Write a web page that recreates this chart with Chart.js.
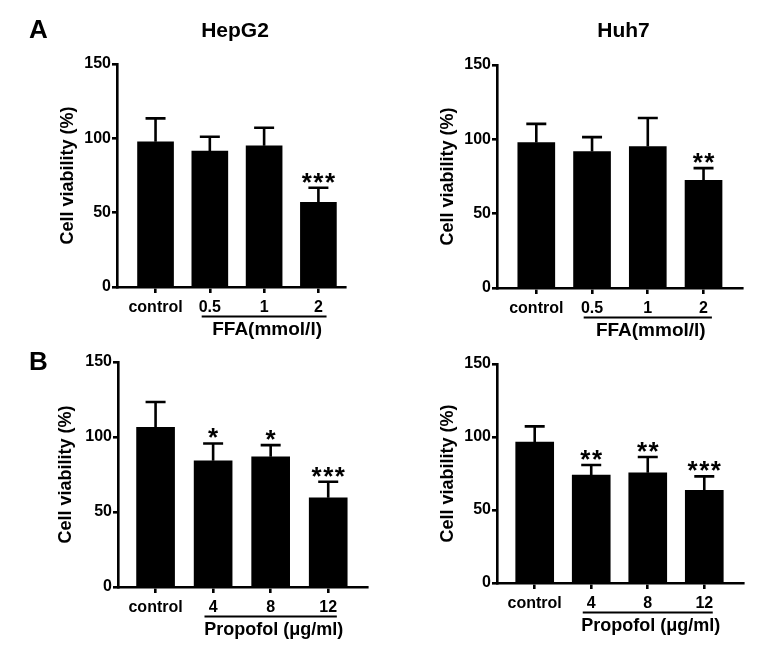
<!DOCTYPE html>
<html>
<head>
<meta charset="utf-8">
<script src="https://cdn.jsdelivr.net/npm/chart.js@4.4.1/dist/chart.umd.min.js"></script>
<style>
    body { margin: 0; background: #fff; }
    #wrap { position: relative; width: 780px; height: 649px; }
    #wrap canvas { position: absolute; left: 0; top: 0; }
</style>
</head>
<body>
<div id="wrap">
    <canvas id="hepg2Ffa" width="780" height="649"></canvas>
    <canvas id="huh7Ffa" width="780" height="649"></canvas>
    <canvas id="hepg2Propofol" width="780" height="649"></canvas>
    <canvas id="huh7Propofol" width="780" height="649"></canvas>
</div>
<script>
const ffaCategories = ['control', '0.5', '1', '2'];
const propofolCategories = ['control', '4', '8', '12'];
const yTickValues = [0, 50, 100, 150];

const hepg2FfaMeans = [97.7, 91.5, 95.0, 57.0];
const hepg2FfaSd = [15.7, 9.6, 12.1, 9.8];
const hepg2FfaStars = ['', '', '', '***'];

const huh7FfaMeans = [97.8, 91.8, 95.2, 72.5];
const huh7FfaSd = [12.6, 9.7, 19.1, 8.1];
const huh7FfaStars = ['', '', '', '**'];

const hepg2PropofolMeans = [106.5, 84.1, 86.8, 59.5];
const hepg2PropofolSd = [16.8, 11.6, 7.8, 10.7];
const hepg2PropofolStars = ['', '*', '*', '***'];

const huh7PropofolMeans = [96.6, 74.0, 75.5, 63.4];
const huh7PropofolSd = [10.7, 6.8, 10.8, 9.6];
const huh7PropofolStars = ['', '**', '**', '***'];

const FONT = '"Liberation Sans", Arial, Helvetica, sans-serif';
const Y_W = 64;
const X_H = 60;

// draws error bars, stars, the grouping line and panel titles
const makeAnnotator = (p) => ({
    id: 'annotate',
    afterDatasetsDraw(chart) {
        const { ctx, chartArea, scales: { x, y } } = chart;
        ctx.save();
        ctx.strokeStyle = '#000';
        ctx.fillStyle = '#000';
        ctx.lineWidth = 2.6;

        p.means.forEach((m, i) => {
            const cx = x.getPixelForValue(i);
            const yBar = y.getPixelForValue(m);
            const yTop = y.getPixelForValue(m + p.sd[i]);
            ctx.beginPath();
            ctx.moveTo(cx, yBar);
            ctx.lineTo(cx, yTop);
            ctx.moveTo(cx - 10, yTop);
            ctx.lineTo(cx + 10, yTop);
            ctx.stroke();
            if (p.stars[i]) {
                ctx.font = `bold 26px ${FONT}`;
                ctx.letterSpacing = '1.5px';
                ctx.textAlign = 'center';
                ctx.textBaseline = 'alphabetic';
                ctx.fillText(p.stars[i], cx + 0.75, yTop + 3);
                ctx.letterSpacing = '0px';
            }
        });

        // group underline + label
        const gx0 = x.getPixelForValue(0.85);
        const gx1 = x.getPixelForValue(3.15);
        const gy = chartArea.bottom + 29.5;
        ctx.lineWidth = 2.2;
        ctx.beginPath();
        ctx.moveTo(gx0, gy);
        ctx.lineTo(gx1, gy);
        ctx.stroke();
        ctx.font = `bold ${p.groupSize}px ${FONT}`;
        ctx.textAlign = 'center';
        ctx.textBaseline = 'middle';
        ctx.fillText(p.group, (gx0 + gx1) / 2 + 3, chartArea.bottom + 43);

        if (p.title) {
            ctx.font = `bold 21px ${FONT}`;
            ctx.fillText(p.title, (chartArea.left + chartArea.right) / 2 + 4, 31);
        }
        if (p.letter) {
            ctx.font = `bold 26px ${FONT}`;
            ctx.textAlign = 'left';
            ctx.fillText(p.letter, 29, p.letterY);
        }
        ctx.restore();
    }
});

const renderPanel = (id, p) => {
    const ctx = document.getElementById(id);
    if (!ctx) return;

    const axisFont = { family: FONT, size: 16, weight: 'bold' };

    new Chart(ctx, {
        type: 'bar',
        data: {
            datasets: [{
                data: p.means.map((v, i) => ({ x: i, y: v })),
                backgroundColor: '#000',
                borderWidth: 0,
                barThickness: p.barWidth
            }]
        },
        options: {
            responsive: false,
            animation: false,
            events: [],
            layout: {
                padding: {
                    left: p.area.left - Y_W,
                    right: 780 - p.area.right,
                    top: p.area.top,
                    bottom: 649 - p.area.bottom - X_H
                }
            },
            plugins: { legend: { display: false }, tooltip: { enabled: false } },
            scales: {
                x: {
                    type: 'linear',
                    offset: false,
                    min: p.xMin,
                    max: p.xMax,
                    afterBuildTicks: (s) => { s.ticks = p.categories.map((c, i) => ({ value: i })); },
                    afterFit: (s) => { s.height = X_H; },
                    ticks: {
                        callback: (v) => p.categories[v],
                        color: '#000',
                        font: axisFont,
                        padding: 5,
                        autoSkip: false,
                        maxRotation: 0
                    },
                    grid: { offset: false, drawOnChartArea: false, color: '#000', lineWidth: 2.6, tickLength: 6 },
                    border: { display: true, color: '#000', width: 2.6 }
                },
                y: {
                    min: 0,
                    max: 150,
                    afterBuildTicks: (s) => { s.ticks = yTickValues.map(v => ({ value: v })); },
                    afterFit: (s) => { s.width = Y_W; },
                    ticks: { color: '#000', font: axisFont, padding: 1 },
                    grid: { drawOnChartArea: false, color: '#000', lineWidth: 2.6, tickLength: 5 },
                    border: { display: true, color: '#000', width: 2.6 },
                    title: {
                        display: true,
                        text: 'Cell viability (%)',
                        color: '#000',
                        font: { family: FONT, size: 18, weight: 'bold' },
                        padding: { top: p.yTitlePad, bottom: 0 }
                    }
                }
            }
        },
        plugins: [makeAnnotator(p)]
    });
};

renderPanel('hepg2Ffa', {
    area: { left: 117, right: 345, top: 64, bottom: 287 },
    xMin: -0.71, xMax: 3.49, barWidth: 36, yTitlePad: 4.5,
    categories: ffaCategories, means: hepg2FfaMeans, sd: hepg2FfaSd, stars: hepg2FfaStars,
    group: 'FFA(mmol/l)', groupSize: 19, title: 'HepG2', letter: 'A', letterY: 31
});

renderPanel('huh7Ffa', {
    area: { left: 497, right: 742, top: 65, bottom: 288 },
    xMin: -0.705, xMax: 3.69, barWidth: 37, yTitlePad: 4.5,
    categories: ffaCategories, means: huh7FfaMeans, sd: huh7FfaSd, stars: huh7FfaStars,
    group: 'FFA(mmol/l)', groupSize: 19, title: 'Huh7'
});

renderPanel('hepg2Propofol', {
    area: { left: 118, right: 367, top: 362, bottom: 587 },
    xMin: -0.653, xMax: 3.674, barWidth: 38, yTitlePad: 1.5,
    categories: propofolCategories, means: hepg2PropofolMeans, sd: hepg2PropofolSd, stars: hepg2PropofolStars,
    group: 'Propofol (μg/ml)', groupSize: 18, letter: 'B', letterY: 363
});

renderPanel('huh7Propofol', {
    area: { left: 497, right: 743, top: 364, bottom: 583 },
    xMin: -0.667, xMax: 3.685, barWidth: 38, yTitlePad: 4.5,
    categories: propofolCategories, means: huh7PropofolMeans, sd: huh7PropofolSd, stars: huh7PropofolStars,
    group: 'Propofol (μg/ml)', groupSize: 18
});
</script>
</body>
</html>
